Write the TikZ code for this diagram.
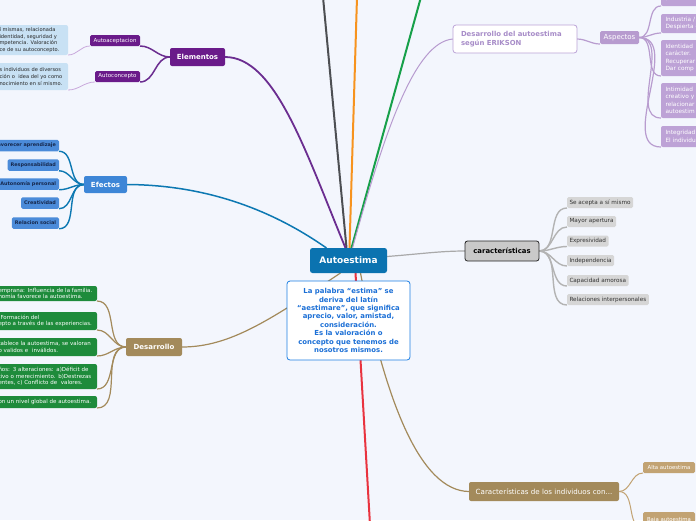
\documentclass[tikz,border=0pt]{standalone}
\usepackage{fontspec}
\setmainfont{DejaVu Sans}
\usetikzlibrary{calc}
\definecolor{bgc}{HTML}{F3F6FD}
\definecolor{cctr}{HTML}{0B73B0}
\definecolor{cdescb}{HTML}{1D7FE3}
\definecolor{cdesct}{HTML}{1B6FD6}
\definecolor{cpurp}{HTML}{6A1B8A}
\definecolor{cpurpl}{HTML}{6B2D90}
\definecolor{clb}{HTML}{C8E1F4}
\definecolor{clbl}{HTML}{C9A9DC}
\definecolor{cef}{HTML}{3D86D7}
\definecolor{cefc}{HTML}{4B8BD9}
\definecolor{ceft}{HTML}{16284D}
\definecolor{cblue}{HTML}{0C78B2}
\definecolor{cbrown}{HTML}{A38A5B}
\definecolor{cgreen}{HTML}{1E8B3B}
\definecolor{cerb}{HTML}{BBA3D7}
\definecolor{cert}{HTML}{A78CC8}
\definecolor{casp}{HTML}{B79BCF}
\definecolor{caspc}{HTML}{BDA2D6}
\definecolor{caspl}{HTML}{B89CCF}
\definecolor{cchr}{HTML}{C9C9C9}
\definecolor{cchrc}{HTML}{D6D6D6}
\definecolor{cchrl}{HTML}{B3B3B3}
\definecolor{cgrayl}{HTML}{A9A9A9}
\definecolor{calta}{HTML}{C2A373}
\definecolor{corange}{HTML}{F7931E}
\definecolor{cgreenl}{HTML}{17A04A}
\definecolor{cred}{HTML}{E9333F}
\definecolor{cdgray}{HTML}{4D4F53}
\newcommand\myfs[2]{\fontsize{#1}{#2}\selectfont}
\pgfdeclarelayer{bgl}
\pgfdeclarelayer{edges}
\pgfsetlayers{bgl,edges,main}
\begin{document}
\begin{tikzpicture}[x=1pt,y=-1pt,
  every node/.style={inner sep=0pt, outer sep=0pt},
  ctrbox/.style={fill=cctr, text=white, font=\myfs{9}{11}\bfseries, minimum width=77pt, minimum height=25pt, rounded corners=2.5pt},
  descbox/.style={fill=white, draw=cdescb, line width=0.8pt, rounded corners=3pt, text=cdesct, font=\myfs{6.9}{8.4}\bfseries, minimum width=123pt, minimum height=79pt, align=center},
  mainbox/.style={text=white, font=\myfs{7}{8}\bfseries, rounded corners=2pt},
  smallpurp/.style={fill=cpurp, text=white, font=\myfs{5.5}{6}, minimum height=11pt, rounded corners=1.5pt},
  lbbox/.style={fill=clb, text=black!85, font=\myfs{5.1}{6.6}, rounded corners=2pt, align=left, minimum width=71pt, text width=66pt, inner xsep=2.5pt, anchor=west},
  efbox/.style={fill=cefc, text=ceft, font=\myfs{4.9}{6}\bfseries, minimum height=11.5pt, inner xsep=3pt, rounded corners=1.5pt, anchor=east},
  gbox/.style={fill=cgreen, text=white, font=\myfs{5.5}{6.6}, rounded corners=2pt, align=left, minimum width=101pt, text width=96pt, inner xsep=2.5pt, anchor=west},
  abox/.style={fill=caspc, text=white, font=\myfs{5.8}{7.5}, rounded corners=2pt, align=left, minimum width=45pt, text width=38pt, inner xsep=4.5pt, anchor=north west},
  cbox/.style={fill=cchrc, text=black!80, font=\myfs{5.7}{6.5}, minimum height=11pt, inner xsep=2.5pt, rounded corners=1.5pt, anchor=west},
  brbox/.style={fill=calta, text=white, font=\myfs{5.4}{6}, minimum width=52pt, rounded corners=1.5pt},
  epurp/.style={draw=cpurpl, line width=1.5pt},
  elb/.style={draw=clbl, line width=0.8pt},
  eblue/.style={draw=cblue, line width=1.4pt},
  ebrown/.style={draw=cbrown, line width=1.2pt},
  egray/.style={draw=cchrl, line width=1.4pt},
  easp/.style={draw=caspl, line width=1.2pt},
  ealta/.style={draw=calta, line width=1pt}
]
\begin{pgfonlayer}{bgl}
\fill[bgc] (0,0) rectangle (696,520);
\end{pgfonlayer}
\useasboundingbox (0,0) rectangle (696,520);

% centre
\node[ctrbox] (ctr) at (348.5,260.5) {Autoestima};
\node[descbox] (desc) at (348.5,320.5) {La palabra “estima” se\\deriva del latín\\“aestimare”, que significa\\aprecio, valor, amistad,\\consideración.\\Es la valoración o\\concepto que tenemos de\\nosotros mismos.};

% Elementos
\node[mainbox, fill=cpurp, minimum width=55pt, minimum height=18pt] (elem) at (197.5,57) {Elementos};
\node[smallpurp, minimum width=50pt] (aa) at (115,40.5) {Autoaceptacion};
\node[smallpurp, minimum width=45pt] (ac) at (117.5,76.5) {Autoconcepto};
\node[lbbox, minimum height=30pt] (lb1) at (-3,40) {í mismas, relacionada\\identidad, seguridad y\\mpetencia. Valoración\\ce de su autoconcepto.};
\node[lbbox, minimum height=27pt] (lb2) at (-3,76.5) {s individuos de diversos\\ción o\ \ idea del yo como\\nocimiento en sí mismo.};

% Efectos
\node[mainbox, fill=cef, minimum width=43pt, minimum height=17pt] (ef) at (105.5,184.5) {Efectos};
\node[efbox] (ef1) at (59,145.5) {avorecer aprendizaje};
\node[efbox] (ef2) at (59,165) {Responsabilidad};
\node[efbox] (ef3) at (59,184) {Autonomía personal};
\node[efbox] (ef4) at (59,203) {Creatividad};
\node[efbox] (ef5) at (59,223) {Relacion social};

% Desarrollo
\node[mainbox, fill=cbrown, minimum width=56pt, minimum height=18pt] (des) at (154,347) {Desarrollo};
\node[gbox, minimum height=15pt] (g1) at (-4,293.5) {emprana: Influencia de la familia.\\nomía favorece la autoestima.};
\node[gbox, minimum height=18pt] (g2) at (-4,321) {\hspace{2pt}Formación del\\epto a través de las experiencias.};
\node[gbox, minimum height=18pt] (g3) at (-4,347) {tablece la autoestima, se valoran\\o validos e\ \ inválidos.};
\node[gbox, minimum height=25pt] (g4) at (-4,376.5) {ños: 3 alteraciones: a)Déficit de\\tivo o merecimiento. b)Destrezas\\entes, c) Conflicto de\ \ valores.};
\node[gbox, minimum height=12pt] (g5) at (-4,402) {on un nivel global de autoestima.};

% Erikson
\node[fill=white, draw=cerb, line width=0.8pt, rounded corners=3pt, minimum width=124pt, minimum height=28pt, text width=108pt, align=left, text=cert, font=\myfs{6.9}{8.3}\bfseries] (erik) at (515,39) {Desarrollo del autoestima\\según ERIKSON};
\node[fill=casp, text=white, font=\myfs{7}{7.5}, minimum width=39pt, minimum height=13pt, rounded corners=1.5pt] (asp) at (619.5,37.5) {Aspectos};
\node[abox, minimum height=16pt, anchor=south west] (a1) at (661,6) {producien};
\node[abox, minimum height=19pt] (a2) at (661,14) {Industria /\\Despierta e};
\node[abox, minimum height=36pt] (a3) at (661,40) {Identidad\\carácter.\\Recuperar\\Dar comp};
\node[abox, minimum height=35pt] (a4) at (661,83) {Intimidad\\creativo y\\relacionar\\autoestim};
\node[abox, minimum height=21pt] (a5) at (661,126) {Integridad\\El individu};

% caracteristicas
\node[fill=cchr, draw=black!85, line width=0.8pt, rounded corners=2.5pt, minimum width=74pt, minimum height=20pt, font=\myfs{6.9}{8}\bfseries] (chr) at (502,251) {características};
\node[cbox] (c1) at (567,202.5) {Se acepta a sí mismo};
\node[cbox] (c2) at (567,221.5) {Mayor apertura};
\node[cbox] (c3) at (567,241) {Expresividad};
\node[cbox] (c4) at (567,260.5) {Independencia};
\node[cbox] (c5) at (567,280.5) {Capacidad amorosa};
\node[cbox] (c6) at (567,299.5) {Relaciones interpersonales};

% Caracteristicas de los individuos
\node[fill=cbrown, text=white, font=\myfs{7.1}{8}, minimum width=150pt, minimum height=19pt, rounded corners=2pt] (cind) at (544,491.5) {Características de los individuos con...};
\node[brbox, minimum height=11pt] (alta) at (669,467.5) {Alta autoestima};
\node[brbox, minimum height=16pt] (baja) at (669,520) {Baja autoestima};

% free ends
\coordinate (tgray) at (323,-3);
\coordinate (torange) at (357,-3);
\coordinate (tgreen) at (421,-3);
\coordinate (rbot) at (370,525);

\begin{pgfonlayer}{edges}
\draw[draw=cdgray, line width=2pt] ($(ctr.north)+(-2,0)$) -- (tgray);
\draw[draw=corange, line width=2pt] ($(ctr.north)+(1,0)$) -- (torange);
\draw[draw=cgreenl, line width=2pt] ($(ctr.north)+(3,0)$) -- (tgreen);
\draw[draw=cpurpl, line width=1.8pt] (elem.east) .. controls (275,57) and (305,150) .. ($(ctr.north)+(-3,0)$);
\draw[draw=casp, line width=1pt] ($(ctr.north)+(4,0)$) .. controls (385,130) and (415,42) .. (erik.west);
\draw[draw=cblue, line width=1.5pt] (ef.east) .. controls (210,185) and (275,212) .. ($(ctr.north)+(-22,0)$);
\draw[draw=cgrayl, line width=1.2pt] ($(ctr.east)+(0,-4)$) .. controls (420,254) and (440,251) .. (chr.west);
\draw[ebrown] (des.east) .. controls (230,347) and (270,320) .. ($(ctr.south)+(-8,0)$);
\draw[draw=cred, line width=2pt] ($(ctr.south)+(7,0)$) -- (rbot);
\draw[ebrown] ($(ctr.south)+(12,0)$) .. controls (385,400) and (420,491) .. (cind.west);

\draw[epurp] (elem.west) to[out=180,in=0] (aa.south east);
\draw[epurp] (elem.west) to[out=180,in=0] (ac.south east);
\draw[elb] (aa.south west) to[out=180,in=0] (lb1.south east);
\draw[elb] (ac.south west) to[out=180,in=0] (lb2.south east);

\foreach \n in {ef1,ef2,ef3,ef4,ef5}{\draw[eblue] (ef.west) to[out=180,in=0] (\n.south east);}
\foreach \n in {g1,g2,g3,g4,g5}{\draw[ebrown] (des.west) to[out=180,in=0] (\n.south east);}
\foreach \n in {c1,c2,c3,c4,c5,c6}{\draw[egray] (chr.east) to[out=0,in=180] (\n.south west);}
\foreach \n in {a1,a2,a3,a4,a5}{\draw[easp] (asp.east) to[out=0,in=180] (\n.south west);}
\draw[easp] (erik.east) to[out=0,in=180] (asp.south west);
\draw[ealta] (cind.east) to[out=0,in=180] (alta.south west);
\draw[ealta] (cind.east) to[out=0,in=180] (baja.south west);
\end{pgfonlayer}
\end{tikzpicture}
\end{document}
